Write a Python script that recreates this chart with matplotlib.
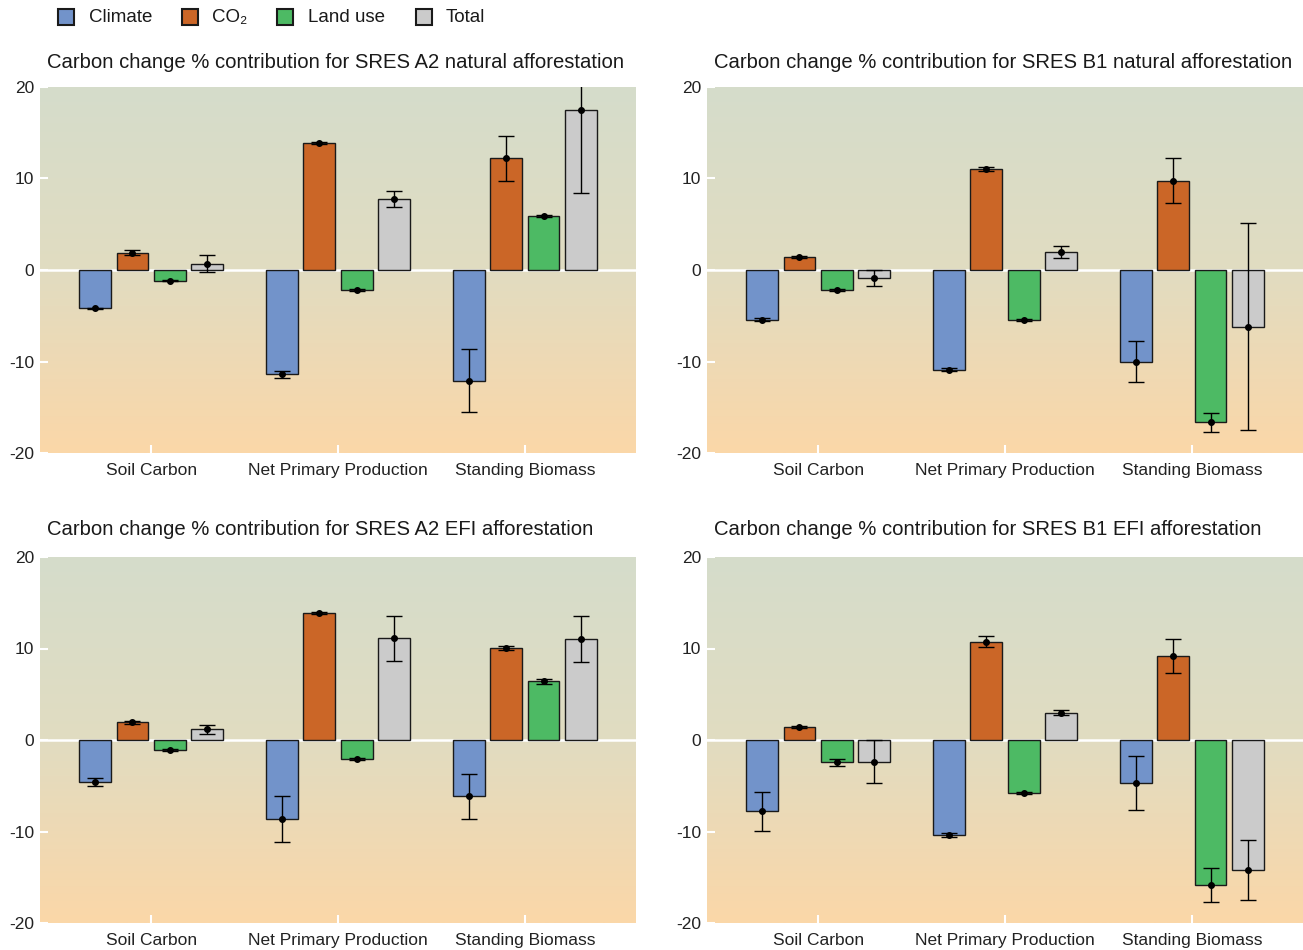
import numpy as np
import matplotlib
matplotlib.use("Agg")
import matplotlib.pyplot as plt
from matplotlib.colors import LinearSegmentedColormap
from matplotlib.patches import Rectangle

plt.rcParams['font.family'] = ['Liberation Sans', 'DejaVu Sans']
plt.rcParams['axes.unicode_minus'] = False

categories = ["Soil Carbon", "Net Primary Production", "Standing Biomass"]
series = ["Climate", "CO₂", "Land use", "Total"]
colors = ["#7293CA", "#CB6627", "#4DBA64", "#CBCBCB"]

titles = [
    "Carbon change % contribution for SRES A2 natural afforestation",
    "Carbon change % contribution for SRES B1 natural afforestation",
    "Carbon change % contribution for SRES A2 EFI afforestation",
    "Carbon change % contribution for SRES B1 EFI afforestation",
]

# values[series][category]
a2_nat_vals = [[-4.2, -11.4, -12.1], [1.9, 13.9, 12.2], [-1.15, -2.2, 5.9], [0.7, 7.75, 17.5]]
a2_nat_err = [[0.1, 0.35, 3.45], [0.25, 0.1, 2.45], [0.1, 0.1, 0.15], [0.9, 0.85, 9.1]]

b1_nat_vals = [[-5.45, -10.9, -10.0], [1.45, 11.05, 9.75], [-2.15, -5.45, -16.65], [-0.9, 1.95, -6.2]]
b1_nat_err = [[0.15, 0.15, 2.2], [0.1, 0.2, 2.45], [0.1, 0.1, 1.05], [0.85, 0.65, 11.3]]

a2_efi_vals = [[-4.55, -8.6, -6.15], [1.95, 13.9, 10.05], [-1.1, -2.1, 6.4], [1.15, 11.1, 11.0]]
a2_efi_err = [[0.45, 2.5, 2.45], [0.15, 0.1, 0.2], [0.1, 0.1, 0.3], [0.45, 2.5, 2.5]]

b1_efi_vals = [[-7.8, -10.4, -4.7], [1.4, 10.75, 9.15], [-2.45, -5.75, -15.85], [-2.4, 3.0, -14.2]]
b1_efi_err = [[2.1, 0.2, 3.0], [0.1, 0.6, 1.85], [0.4, 0.1, 1.9], [2.35, 0.3, 3.25]]

panel_vals = [a2_nat_vals, b1_nat_vals, a2_efi_vals, b1_efi_vals]
panel_errs = [a2_nat_err, b1_nat_err, a2_efi_err, b1_efi_err]

yticks = [-20, -10, 0, 10, 20]

W, H = 1303, 950
fig = plt.figure(figsize=(W / 100, H / 100), dpi=100)

grad = LinearSegmentedColormap.from_list("bg", ["#FBD7A8", "#E1DCC1", "#D5DDCB"])
gimg = np.linspace(0, 1, 256).reshape(-1, 1)

positions = [
    (40, 87, 636, 453),
    (707, 87, 1303, 453),
    (40, 557, 636, 923),
    (707, 557, 1303, 923),
]
title_off = [19, 19, 22, 22]

offsets = [-0.3, -0.1, 0.1, 0.3]
bw = 0.17
x = np.arange(len(categories))

for p, (l, t, r, b) in enumerate(positions):
    ax = fig.add_axes([l / W, 1 - b / H, (r - l) / W, (b - t) / H])
    ax.imshow(gimg, aspect='auto', cmap=grad, origin='lower',
              extent=[0, 1, 0, 1], transform=ax.transAxes, zorder=0)
    ax.set_xlim(-0.595, 2.595)
    ax.set_ylim(-20, 20)
    ax.axhline(0, color='white', lw=1.8, zorder=1)
    for s in range(4):
        vals = np.array(panel_vals[p][s])
        errs = np.array(panel_errs[p][s])
        ax.bar(x + offsets[s], vals, width=bw, color=colors[s],
               edgecolor='#1a1a1a', linewidth=1.0, zorder=2)
        ax.errorbar(x + offsets[s], vals, yerr=errs, fmt='o', color='black',
                    ms=4, elinewidth=1.0, capsize=6, capthick=1.0, zorder=3,
                    clip_on=True)
    for sp in ax.spines.values():
        sp.set_visible(False)
    ax.set_xticks(x)
    ax.set_xticklabels(categories, fontsize=12.5, color='#222222')
    ax.set_yticks(yticks)
    ax.set_yticklabels([str(v) for v in yticks], fontsize=12.5, color='#222222')
    ax.tick_params(axis='both', direction='in', color='white', width=1.5, length=6)
    ax.tick_params(axis='x', pad=7)
    ax.tick_params(axis='y', pad=4)
    ax.text(7 / (r - l), 1 + title_off[p] / (b - t), titles[p], transform=ax.transAxes,
            fontsize=14.6, color='#1a1a1a', ha='left', va='baseline')

# legend
leg_sq = [58, 182, 277, 416]
leg_tx = [89, 212, 308, 446]
for s in range(4):
    fig.add_artist(Rectangle((leg_sq[s] / W, 1 - 25 / H), 16 / W, 16 / H,
                             transform=fig.transFigure, facecolor=colors[s],
                             edgecolor='#1a1a1a', linewidth=1.5))
    fig.text(leg_tx[s] / W, 1 - 17 / H, series[s], fontsize=13.5,
             color='#1a1a1a', ha='left', va='center')

fig.savefig("out.png", dpi=100)
